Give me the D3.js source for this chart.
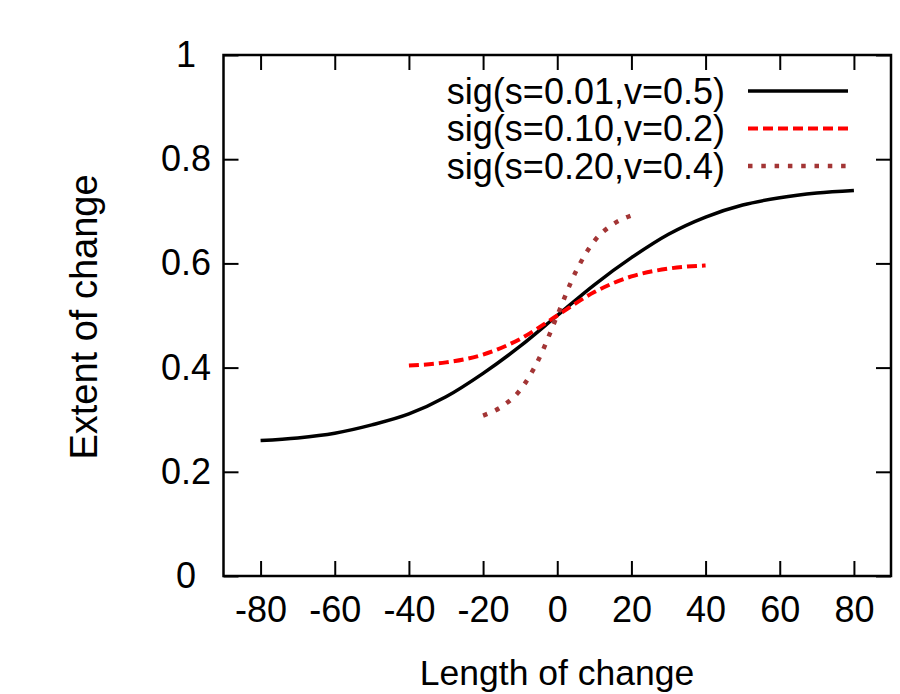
<!DOCTYPE html>
<html>
<head>
<meta charset="utf-8">
<script src="https://cdn.jsdelivr.net/npm/d3@7"></script>
<style>
  body { margin: 0; background: #fff; }
  text { font-family: "Liberation Sans", Arial, sans-serif; }
</style>
</head>
<body>
<script>
// values
var xTicks = [-80, -60, -40, -20, 0, 20, 40, 60, 80];
var yTicks = [0, 0.2, 0.4, 0.6, 0.8, 1];

var blackX = [-80, -70, -60, -50, -40, -30, -20, -10, 0, 10, 20, 30, 40, 50, 60, 70, 80];
var blackY = [0.260, 0.265, 0.274, 0.290, 0.311, 0.344, 0.389, 0.441, 0.500,
              0.559, 0.611, 0.656, 0.689, 0.712, 0.726, 0.735, 0.740];

var redX = [-40, -30, -20, -10, 0, 10, 20, 30, 40];
var redY = [0.404, 0.410, 0.425, 0.455, 0.500, 0.545, 0.575, 0.590, 0.596];

var brownX = [-20, -15, -10, -5, 0, 5, 10, 15, 20];
var brownY = [0.308, 0.325, 0.357, 0.416, 0.500, 0.584, 0.643, 0.675, 0.692];

var labels = ["sig(s=0.01,v=0.5)", "sig(s=0.10,v=0.2)", "sig(s=0.20,v=0.4)"];

var W = 900, H = 694;
var pLeft = 223.5, pRight = 891, pTop = 55, pBottom = 576;
var tickLen = 15;
var fs = 36;

var svg = d3.select("body").append("svg")
            .attr("width", W)
            .attr("height", H);

var x = d3.scaleLinear().domain([-90, 90]).range([pLeft, pRight]);
var y = d3.scaleLinear().domain([0, 1]).range([pBottom, pTop]);

// axes (ticks inward, mirrored on top/right)
var gx = svg.append("g").attr("transform", "translate(0," + pBottom + ")")
  .call(d3.axisBottom(x).tickValues(xTicks).tickSize(-tickLen).tickPadding(20)
        .tickFormat(function(d) { return String(d); }));
var gx2 = svg.append("g").attr("transform", "translate(0," + pTop + ")")
  .call(d3.axisTop(x).tickValues(xTicks).tickSize(-tickLen).tickFormat(""));
var gy = svg.append("g").attr("transform", "translate(" + pLeft + ",0)")
  .call(d3.axisLeft(y).tickValues(yTicks).tickSize(-tickLen).tickPadding(10)
        .tickFormat(function(d) { return String(+d.toFixed(1)); }));
var gy2 = svg.append("g").attr("transform", "translate(" + pRight + ",0)")
  .call(d3.axisRight(y).tickValues(yTicks).tickSize(-tickLen).tickFormat(""));

[gx, gx2, gy, gy2].forEach(function(g) {
  g.select(".domain").remove();
  g.selectAll(".tick line").attr("stroke", "#000").attr("stroke-width", 2);
  g.selectAll("text").attr("font-size", fs).attr("fill", "#000")
   .attr("font-family", "Liberation Sans, Arial, sans-serif");
});
gx.selectAll("text").attr("dy", "0.71em");
// y labels sit centred in the margin, as in the original
gy.selectAll(".tick text").attr("text-anchor", "middle").attr("x", 186 - pLeft);

svg.append("rect")
   .attr("x", pLeft).attr("y", pTop)
   .attr("width", pRight - pLeft).attr("height", pBottom - pTop)
   .attr("fill", "none")
   .attr("stroke", "#000")
   .attr("stroke-width", 2.5);

// axis titles
svg.append("text")
   .attr("x", 557).attr("y", 685)
   .attr("text-anchor", "middle")
   .attr("font-size", 35.5)
   .text("Length of change");
svg.append("text")
   .attr("transform", "translate(97,317) rotate(-90)")
   .attr("text-anchor", "middle")
   .attr("font-size", 38)
   .text("Extent of change");

// curves
var line = d3.line()
  .x(function(d) { return x(d[0]); })
  .y(function(d) { return y(d[1]); })
  .curve(d3.curveMonotoneX);

var series = [
  {xs: blackX, ys: blackY, color: "#000", width: 3.5, dash: null},
  {xs: redX, ys: redY, color: "#ff0000", width: 4, dash: "10,5"},
  {xs: brownX, ys: brownY, color: "#a33535", width: 4.5, dash: "4.5,8.8"}
];

series.forEach(function(s, i) {
  var pts = d3.zip(s.xs, s.ys);
  svg.append("path")
     .attr("d", line(pts))
     .attr("fill", "none")
     .attr("stroke", s.color)
     .attr("stroke-width", s.width)
     .attr("stroke-dasharray", s.dash);

  // legend
  var ly = 91 + i * 37.5;
  svg.append("text")
     .attr("x", 725).attr("y", ly)
     .attr("dy", "0.35em")
     .attr("text-anchor", "end")
     .attr("font-size", fs)
     .text(labels[i]);
  svg.append("line")
     .attr("x1", 748).attr("x2", 848)
     .attr("y1", ly).attr("y2", ly)
     .attr("stroke", s.color)
     .attr("stroke-width", s.width)
     .attr("stroke-dasharray", s.dash);
});
</script>
</body>
</html>
